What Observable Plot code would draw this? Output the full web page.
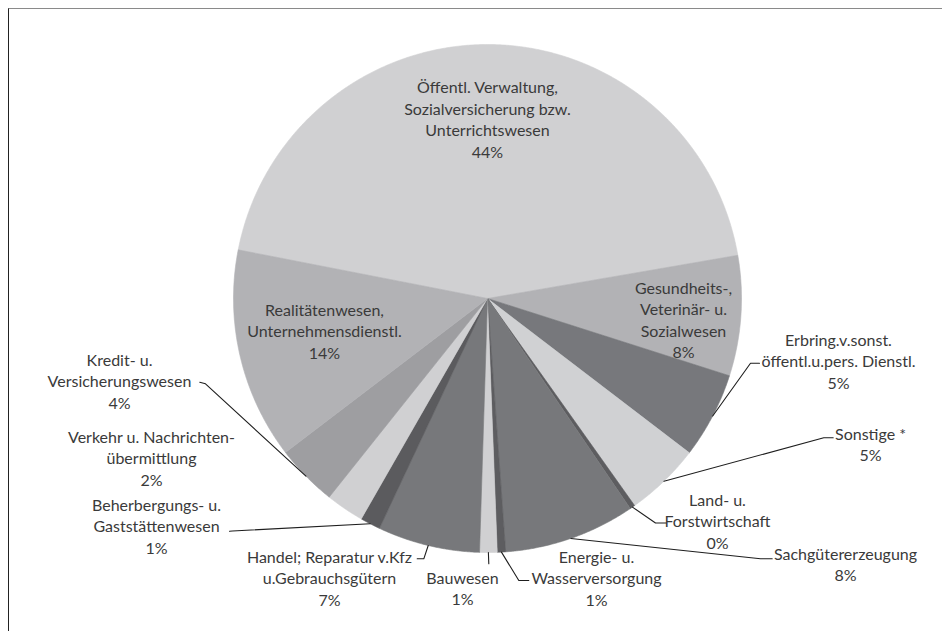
<!DOCTYPE html>
<html>
<head>
<meta charset="utf-8">
<script src="https://cdn.jsdelivr.net/npm/d3@7"></script>
<script src="https://cdn.jsdelivr.net/npm/@observablehq/plot@0.6"></script>
<style>
  html, body { margin: 0; padding: 0; background: #ffffff; }
  #wrap { position: relative; width: 942px; height: 631px; overflow: hidden; }
  #frame { position: absolute; left: 8px; top: 8px; right: -4px; bottom: -4px;
           border-top: 1px solid #8a8a8a; border-left: 1px solid #222222; pointer-events: none; }
</style>
</head>
<body>
<div id="wrap"><div id="frame"></div></div>
<script>
// ---- data ----
const categories = [
  "Öffentl. Verwaltung,\nSozialversicherung bzw.\nUnterrichtswesen",
  "Gesundheits-,\nVeterinär- u.\nSozialwesen",
  "Erbring.v.sonst.\nöffentl.u.pers. Dienstl.",
  "Sonstige *",
  "Land- u.\nForstwirtschaft",
  "Sachgütererzeugung",
  "Energie- u.\nWasserversorgung",
  "Bauwesen",
  "Handel; Reparatur v.Kfz\nu.Gebrauchsgütern",
  "Beherbergungs- u.\nGaststättenwesen",
  "Verkehr u. Nachrichten-\nübermittlung",
  "Kredit- u.\nVersicherungswesen",
  "Realitätenwesen,\nUnternehmensdienstl."
];
const shares = [44.21, 7.64, 5.47, 4.78, 0.33, 8.36, 0.53, 1.11, 6.50, 1.28, 2.43, 3.93, 13.43];
const pctLabels = ["44%", "8%", "5%", "5%", "0%", "8%", "1%", "1%", "7%", "1%", "2%", "4%", "14%"];

// ---- styles / layout (not data) ----
const sliceColors = ["#d0d0d2", "#b2b2b5", "#77787c", "#d0d1d3", "#5d5d60", "#77787b",
                     "#5d5d60", "#d0d0d2", "#77787b", "#5b5b5e", "#d0d0d2", "#9e9ea1", "#b2b2b5"];
const startAngleDeg = 281.05;
const W = 942, H = 631, cx = 487, cy = 298, R = 254;
// label block centres relative to pie centre
const labelPos = [
  [0, -180], [196, 20.5], [351, 62], [383, 145], [230, 222], [358, 265], [109, 279],
  [-25, 289], [-158, 279], [-331, 227], [-336, 159], [-368, 82], [-163, 32]
];
// leader lines: [elbow, end] relative to pie centre (null = no leader)
const leaders = [
  null, null,
  [[263, 64.7], [272, 64.7]],
  [[336.3, 139.3], [345.7, 139.3]],
  [[168, 224.5], [179, 224.5]],
  [[273, 260.3], [284.7, 260.3]],
  [[31.3, 282], [41.3, 282]],
  [[1.3, 265.3], [1.3, 265.3]],
  [[-63.7, 260.3], [-70.3, 260.3]],
  [[-255, 232.5], [-258, 232.7]],
  null,
  [[-282, 85.3], [-287.7, 83.7]],
  null
];

// ---- build ----
const rad = Math.PI / 180;
const pie = d3.pie().sort(null).value(d => d.share)
  .startAngle(startAngleDeg * rad).endAngle(startAngleDeg * rad + 2 * Math.PI);
const rows = categories.map((c, i) => ({cat: c, share: shares[i], pct: pctLabels[i], color: sliceColors[i], i}));
const arcs = pie(rows);

const polar = (a, r) => [r * Math.sin(a), -r * Math.cos(a)];

const slicePts = [];
for (const a of arcs) {
  const n = Math.max(2, Math.ceil((a.endAngle - a.startAngle) / (0.25 * rad)));
  slicePts.push({k: a.data.i, x: 0, y: 0, color: a.data.color});
  for (let j = 0; j <= n; j++) {
    const t = a.startAngle + (a.endAngle - a.startAngle) * j / n;
    const [x, y] = polar(t, R);
    slicePts.push({k: a.data.i, x, y, color: a.data.color});
  }
  slicePts.push({k: a.data.i, x: 0, y: 0, color: a.data.color});
}

const leaderPts = [];
arcs.forEach(a => {
  const L = leaders[a.data.i];
  if (!L) return;
  const mid = (a.startAngle + a.endAngle) / 2;
  const [x0, y0] = polar(mid, R);
  leaderPts.push({k: a.data.i, x: x0, y: y0});
  leaderPts.push({k: a.data.i, x: L[0][0], y: L[0][1]});
  leaderPts.push({k: a.data.i, x: L[1][0], y: L[1][1]});
});

const labels = rows.map(r => ({text: r.cat + "\n" + r.pct, x: labelPos[r.i][0], y: labelPos[r.i][1]}));

const chart = Plot.plot({
  width: W,
  height: H,
  margin: 0,
  style: {background: "transparent"},
  x: {domain: [-cx, W - cx], range: [0, W], axis: null},
  y: {domain: [-cy, H - cy], range: [0, H], axis: null},
  marks: [
    Plot.line(slicePts, {x: "x", y: "y", z: "k", fill: "color", stroke: "color", strokeWidth: 0.6, curve: "linear"}),
    Plot.line(leaderPts, {x: "x", y: "y", z: "k", stroke: "#1e1e1e", strokeWidth: 1.1}),
    Plot.text(labels, {x: "x", y: "y", text: "text", textAnchor: "middle", lineAnchor: "middle",
      lineHeight: 1.34, fontSize: 16, fontFamily: "Lato, 'Noto Sans', sans-serif", fill: "#3a3a3a"})
  ]
});
chart.style.position = "absolute";
chart.style.left = "0px";
chart.style.top = "0px";
document.getElementById("wrap").insertBefore(chart, document.getElementById("frame"));
</script>
</body>
</html>
